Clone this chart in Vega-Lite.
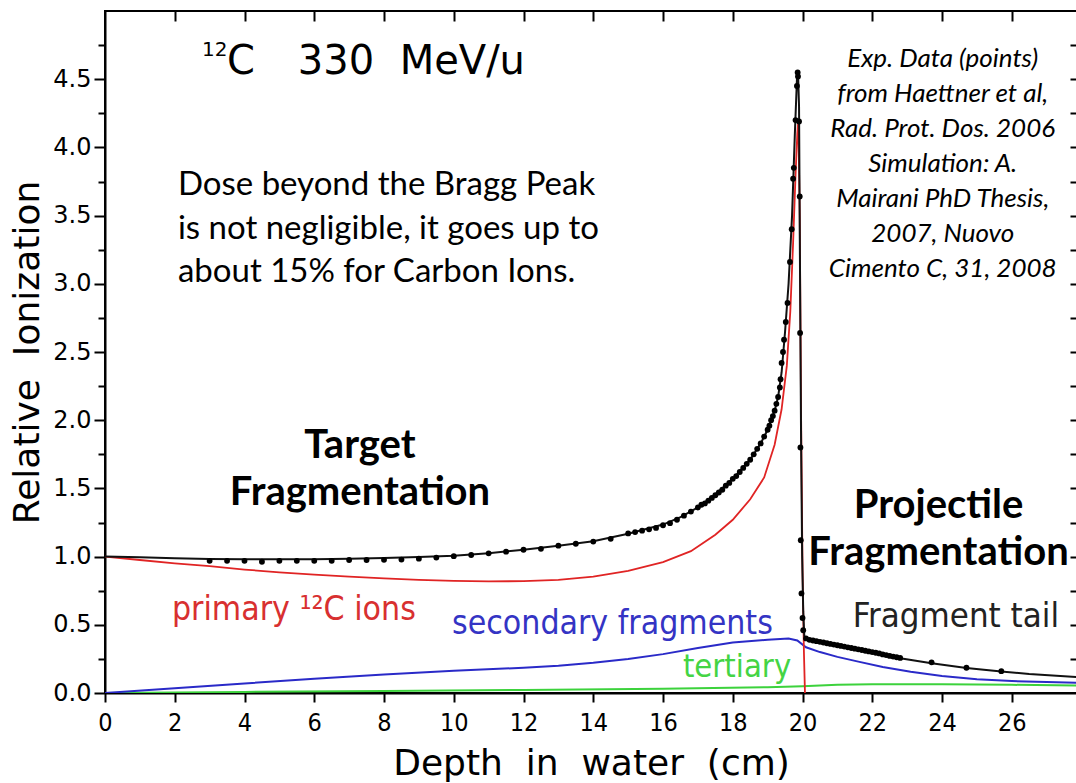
{
  "$schema": "https://vega.github.io/schema/vega-lite/v6.json",
  "width": 972,
  "height": 682,
  "autosize": {"type": "none"},
  "padding": {"left": 105, "top": 11, "right": 0, "bottom": 90},
  "background": "white",
  "config": {
    "view": {"stroke": "#000", "strokeWidth": 2},
    "axis": {"domainColor": "#000", "domainWidth": 2, "tickColor": "#000", "tickWidth": 2, "labelColor": "#000", "titleColor": "#000", "grid": false, "labelOverlap": false, "labelFlush": false}
  },
  "datasets": {
    "total": [
      {"depth": 0, "value": 1.0}, {"depth": 1, "value": 0.995}, {"depth": 2, "value": 0.988}, {"depth": 3, "value": 0.982},
      {"depth": 4, "value": 0.98}, {"depth": 5, "value": 0.98}, {"depth": 6, "value": 0.981}, {"depth": 7, "value": 0.984},
      {"depth": 8, "value": 0.99}, {"depth": 9, "value": 0.997}, {"depth": 10, "value": 1.007}, {"depth": 11, "value": 1.025},
      {"depth": 12, "value": 1.05}, {"depth": 13, "value": 1.08}, {"depth": 14, "value": 1.113}, {"depth": 15, "value": 1.167},
      {"depth": 16, "value": 1.235}, {"depth": 16.5, "value": 1.29}, {"depth": 17, "value": 1.36}, {"depth": 17.5, "value": 1.455},
      {"depth": 18, "value": 1.57}, {"depth": 18.5, "value": 1.71}, {"depth": 18.8, "value": 1.83}, {"depth": 19.0, "value": 1.93},
      {"depth": 19.2, "value": 2.07}, {"depth": 19.3, "value": 2.17}, {"depth": 19.4, "value": 2.35}, {"depth": 19.5, "value": 2.65},
      {"depth": 19.6, "value": 3.0}, {"depth": 19.7, "value": 3.5}, {"depth": 19.78, "value": 4.1}, {"depth": 19.84, "value": 4.5},
      {"depth": 19.87, "value": 4.56}, {"depth": 19.9, "value": 4.3}, {"depth": 19.93, "value": 3.0}, {"depth": 19.96, "value": 1.8},
      {"depth": 19.99, "value": 1.0}, {"depth": 20.02, "value": 0.6}, {"depth": 20.05, "value": 0.42}, {"depth": 20.1, "value": 0.39},
      {"depth": 20.5, "value": 0.37}, {"depth": 21, "value": 0.345}, {"depth": 21.5, "value": 0.32}, {"depth": 22, "value": 0.295},
      {"depth": 22.8, "value": 0.255}, {"depth": 23.7, "value": 0.218}, {"depth": 24.7, "value": 0.183}, {"depth": 25.7, "value": 0.158},
      {"depth": 26.5, "value": 0.14}, {"depth": 27.87, "value": 0.117}
    ],
    "primary": [
      {"depth": 0, "value": 1.0}, {"depth": 1, "value": 0.975}, {"depth": 2, "value": 0.95}, {"depth": 3, "value": 0.93},
      {"depth": 4, "value": 0.905}, {"depth": 5, "value": 0.885}, {"depth": 6, "value": 0.868}, {"depth": 7, "value": 0.853},
      {"depth": 8, "value": 0.84}, {"depth": 9, "value": 0.83}, {"depth": 10, "value": 0.822}, {"depth": 11, "value": 0.818},
      {"depth": 12, "value": 0.82}, {"depth": 13, "value": 0.83}, {"depth": 14, "value": 0.853}, {"depth": 15, "value": 0.895},
      {"depth": 16, "value": 0.96}, {"depth": 16.8, "value": 1.04}, {"depth": 17.5, "value": 1.16}, {"depth": 18, "value": 1.27},
      {"depth": 18.5, "value": 1.42}, {"depth": 18.9, "value": 1.58}, {"depth": 19.2, "value": 1.82}, {"depth": 19.4, "value": 2.08},
      {"depth": 19.55, "value": 2.4}, {"depth": 19.65, "value": 2.8}, {"depth": 19.73, "value": 3.3}, {"depth": 19.8, "value": 3.8},
      {"depth": 19.85, "value": 4.1}, {"depth": 19.88, "value": 4.2}, {"depth": 19.92, "value": 3.5}, {"depth": 19.96, "value": 2.0},
      {"depth": 20.0, "value": 0.9}, {"depth": 20.04, "value": 0.3}, {"depth": 20.07, "value": 0.0}
    ],
    "secondary": [
      {"depth": 0, "value": 0.0}, {"depth": 2, "value": 0.035}, {"depth": 4, "value": 0.07}, {"depth": 6, "value": 0.105},
      {"depth": 8, "value": 0.135}, {"depth": 10, "value": 0.163}, {"depth": 12, "value": 0.185}, {"depth": 13, "value": 0.2},
      {"depth": 14, "value": 0.222}, {"depth": 15, "value": 0.25}, {"depth": 16, "value": 0.285}, {"depth": 17, "value": 0.33},
      {"depth": 18, "value": 0.37}, {"depth": 19, "value": 0.39}, {"depth": 19.6, "value": 0.4}, {"depth": 19.85, "value": 0.385},
      {"depth": 20.1, "value": 0.335}, {"depth": 20.5, "value": 0.3}, {"depth": 21, "value": 0.265}, {"depth": 21.6, "value": 0.23},
      {"depth": 22.3, "value": 0.19}, {"depth": 23.1, "value": 0.155}, {"depth": 24, "value": 0.125}, {"depth": 25, "value": 0.1},
      {"depth": 26, "value": 0.088}, {"depth": 27, "value": 0.08}, {"depth": 27.87, "value": 0.075}
    ],
    "tertiary": [
      {"depth": 0, "value": 0.0}, {"depth": 4, "value": 0.008}, {"depth": 8, "value": 0.015}, {"depth": 12, "value": 0.022},
      {"depth": 16, "value": 0.032}, {"depth": 19, "value": 0.042}, {"depth": 20, "value": 0.05}, {"depth": 21, "value": 0.06},
      {"depth": 22, "value": 0.065}, {"depth": 24, "value": 0.065}, {"depth": 26, "value": 0.06}, {"depth": 27.87, "value": 0.055}
    ],
    "exp": [
      {"depth": 3.0, "value": 0.969}, {"depth": 3.5, "value": 0.969}, {"depth": 4.0, "value": 0.969}, {"depth": 4.5, "value": 0.962},
      {"depth": 5.0, "value": 0.969}, {"depth": 5.5, "value": 0.969}, {"depth": 6.0, "value": 0.969}, {"depth": 6.5, "value": 0.969},
      {"depth": 7.0, "value": 0.975}, {"depth": 7.5, "value": 0.975}, {"depth": 8.0, "value": 0.976}, {"depth": 8.5, "value": 0.978},
      {"depth": 9.0, "value": 0.985}, {"depth": 9.5, "value": 0.993}, {"depth": 10.0, "value": 1.003}, {"depth": 10.5, "value": 1.012},
      {"depth": 11.0, "value": 1.024}, {"depth": 11.5, "value": 1.036}, {"depth": 12.0, "value": 1.05}, {"depth": 12.5, "value": 1.057},
      {"depth": 13.0, "value": 1.08}, {"depth": 13.5, "value": 1.094}, {"depth": 14.0, "value": 1.11}, {"depth": 14.5, "value": 1.13},
      {"depth": 15.0, "value": 1.17}, {"depth": 15.2, "value": 1.18}, {"depth": 15.4, "value": 1.19}, {"depth": 15.6, "value": 1.2},
      {"depth": 15.8, "value": 1.21}, {"depth": 16.0, "value": 1.23}, {"depth": 16.2, "value": 1.245}, {"depth": 16.4, "value": 1.27},
      {"depth": 16.6, "value": 1.3}, {"depth": 16.8, "value": 1.33}, {"depth": 17.0, "value": 1.36}, {"depth": 17.1, "value": 1.38},
      {"depth": 17.2, "value": 1.39}, {"depth": 17.3, "value": 1.41}, {"depth": 17.4, "value": 1.43}, {"depth": 17.5, "value": 1.45},
      {"depth": 17.6, "value": 1.47}, {"depth": 17.7, "value": 1.49}, {"depth": 17.8, "value": 1.52}, {"depth": 17.9, "value": 1.54},
      {"depth": 18.0, "value": 1.57}, {"depth": 18.1, "value": 1.59}, {"depth": 18.2, "value": 1.62}, {"depth": 18.3, "value": 1.65},
      {"depth": 18.4, "value": 1.68}, {"depth": 18.5, "value": 1.71}, {"depth": 18.6, "value": 1.75}, {"depth": 18.7, "value": 1.79},
      {"depth": 18.8, "value": 1.83}, {"depth": 18.9, "value": 1.88}, {"depth": 19.0, "value": 1.93}, {"depth": 19.05, "value": 1.96},
      {"depth": 19.1, "value": 2.0}, {"depth": 19.15, "value": 2.03}, {"depth": 19.2, "value": 2.07}, {"depth": 19.25, "value": 2.12},
      {"depth": 19.3, "value": 2.17}, {"depth": 19.35, "value": 2.24}, {"depth": 19.37, "value": 2.3}, {"depth": 19.4, "value": 2.42},
      {"depth": 19.44, "value": 2.5}, {"depth": 19.47, "value": 2.59}, {"depth": 19.52, "value": 2.72}, {"depth": 19.57, "value": 2.86},
      {"depth": 19.64, "value": 3.16}, {"depth": 19.69, "value": 3.4}, {"depth": 19.73, "value": 3.77}, {"depth": 19.75, "value": 3.85},
      {"depth": 19.8, "value": 4.2}, {"depth": 19.84, "value": 4.45}, {"depth": 19.86, "value": 4.55}, {"depth": 19.87, "value": 4.52},
      {"depth": 19.9, "value": 4.19}, {"depth": 19.92, "value": 3.64}, {"depth": 19.93, "value": 2.64}, {"depth": 19.94, "value": 1.8},
      {"depth": 19.95, "value": 1.12}, {"depth": 19.97, "value": 0.73}, {"depth": 20.0, "value": 0.55}, {"depth": 20.02, "value": 0.46},
      {"depth": 20.1, "value": 0.4}, {"depth": 20.2, "value": 0.39}, {"depth": 20.3, "value": 0.385}, {"depth": 20.4, "value": 0.38},
      {"depth": 20.5, "value": 0.375}, {"depth": 20.6, "value": 0.37}, {"depth": 20.7, "value": 0.365}, {"depth": 20.8, "value": 0.36},
      {"depth": 20.9, "value": 0.355}, {"depth": 21.0, "value": 0.35}, {"depth": 21.1, "value": 0.345}, {"depth": 21.2, "value": 0.34},
      {"depth": 21.3, "value": 0.335}, {"depth": 21.4, "value": 0.33}, {"depth": 21.5, "value": 0.325}, {"depth": 21.6, "value": 0.32},
      {"depth": 21.7, "value": 0.315}, {"depth": 21.8, "value": 0.31}, {"depth": 21.9, "value": 0.305}, {"depth": 22.0, "value": 0.3},
      {"depth": 22.1, "value": 0.295}, {"depth": 22.2, "value": 0.29}, {"depth": 22.3, "value": 0.283}, {"depth": 22.4, "value": 0.278},
      {"depth": 22.5, "value": 0.272}, {"depth": 22.6, "value": 0.267}, {"depth": 22.7, "value": 0.262}, {"depth": 22.8, "value": 0.257},
      {"depth": 23.7, "value": 0.225}, {"depth": 24.7, "value": 0.185}, {"depth": 25.7, "value": 0.16}
    ]
  },
  "layer": [
    {
      "data": {"name": "tertiary"},
      "mark": {"type": "line", "color": "#3cd23c", "strokeWidth": 2, "clip": true},
      "encoding": {
        "x": {"field": "depth", "type": "quantitative", "scale": {"domain": [0, 27.87], "nice": false, "zero": false},
          "axis": {"orient": "bottom", "values": [0, 2, 4, 6, 8, 10, 12, 14, 16, 18, 20, 22, 24, 26], "tickSize": 9, "labelPadding": 8,
            "labelFont": "Liberation Sans Narrow, DejaVu Sans Condensed, sans-serif", "labelFontSize": 25,
            "title": "Depth\u00a0 in\u00a0 water\u00a0 (cm)", "titleFont": "DejaVu Sans", "titleFontSize": 36, "titleFontWeight": "normal", "titlePadding": 11}},
        "y": {"field": "value", "type": "quantitative", "scale": {"domain": [0, 5], "nice": false},
          "axis": {"orient": "left", "values": [0, 0.5, 1, 1.5, 2, 2.5, 3, 3.5, 4, 4.5], "format": ".1f", "tickSize": 11, "labelPadding": 3,
            "labelFont": "DejaVu Sans", "labelFontSize": 24,
            "title": "Relative\u00a0 Ionization", "titleFont": "DejaVu Sans", "titleFontSize": 36, "titleFontWeight": "normal", "titlePadding": 6}}
      }
    },
    {
      "data": {"name": "secondary"},
      "mark": {"type": "line", "color": "#2a2ac8", "strokeWidth": 2, "clip": true},
      "encoding": {
        "x": {"field": "depth", "type": "quantitative",
          "axis": {"orient": "top", "values": [2, 4, 6, 8, 10, 12, 14, 16, 18, 20, 22, 24, 26], "tickSize": -10, "labels": false, "domain": false, "title": null}},
        "y": {"field": "value", "type": "quantitative",
          "axis": {"orient": "left", "values": [0.25, 0.75, 1.25, 1.75, 2.25, 2.75, 3.25, 3.75, 4.25, 4.75], "tickSize": 7, "labels": false, "domain": false, "title": null}}
      }
    },
    {
      "data": {"name": "primary"},
      "mark": {"type": "line", "color": "#e02424", "strokeWidth": 1.8, "clip": true},
      "encoding": {
        "x": {"field": "depth", "type": "quantitative", "axis": null},
        "y": {"field": "value", "type": "quantitative",
          "axis": {"orient": "right", "values": [0.25, 0.5, 0.75, 1, 1.25, 1.5, 1.75, 2, 2.25, 2.5, 2.75, 3, 3.25, 3.5, 3.75, 4, 4.25, 4.5, 4.75], "tickSize": -7, "labels": false, "domain": false, "title": null}}
      }
    },
    {
      "data": {"name": "total"},
      "mark": {"type": "line", "color": "#111", "strokeWidth": 2, "clip": true},
      "encoding": {
        "x": {"field": "depth", "type": "quantitative", "axis": null},
        "y": {"field": "value", "type": "quantitative", "axis": null}
      }
    },
    {
      "data": {"name": "exp"},
      "mark": {"type": "circle", "color": "#000", "size": 34, "opacity": 1},
      "encoding": {
        "x": {"field": "depth", "type": "quantitative", "axis": null},
        "y": {"field": "value", "type": "quantitative", "axis": null}
      }
    },
    {
      "data": {"values": [{}]},
      "mark": {"type": "text", "text": "12", "align": "left", "baseline": "alphabetic", "font": "DejaVu Sans", "fontSize": 20, "color": "#000"},
      "encoding": {"x": {"datum": 2.78, "type": "quantitative", "axis": null}, "y": {"datum": 4.67, "type": "quantitative", "axis": null}}
    },
    {
      "data": {"values": [{}]},
      "mark": {"type": "text", "text": "C", "align": "left", "baseline": "alphabetic", "font": "DejaVu Sans", "fontSize": 40, "color": "#000"},
      "encoding": {"x": {"datum": 3.5, "type": "quantitative", "axis": null}, "y": {"datum": 4.537, "type": "quantitative", "axis": null}}
    },
    {
      "data": {"values": [{}]},
      "mark": {"type": "text", "text": "330\u00a0 MeV/u", "align": "left", "baseline": "alphabetic", "font": "DejaVu Sans", "fontSize": 40, "color": "#000"},
      "encoding": {"x": {"datum": 5.53, "type": "quantitative", "axis": null}, "y": {"datum": 4.537, "type": "quantitative", "axis": null}}
    },
    {
      "data": {"values": [{}]},
      "mark": {"type": "text", "text": ["Dose beyond the Bragg Peak", "is not negligible, it goes up to", "about 15% for Carbon Ions."], "align": "left", "baseline": "alphabetic", "lineHeight": 43.5, "font": "Lato", "fontSize": 33, "color": "#000"},
      "encoding": {"x": {"datum": 2.09, "type": "quantitative", "axis": null}, "y": {"datum": 3.65, "type": "quantitative", "axis": null}}
    },
    {
      "data": {"values": [{}]},
      "mark": {"type": "text", "text": ["Target", "Fragmentation"], "align": "center", "baseline": "alphabetic", "lineHeight": 47, "font": "Lato", "fontWeight": "bold", "fontSize": 40, "color": "#000"},
      "encoding": {"x": {"datum": 7.31, "type": "quantitative", "axis": null}, "y": {"datum": 1.725, "type": "quantitative", "axis": null}}
    },
    {
      "data": {"values": [{}]},
      "mark": {"type": "text", "text": ["Projectile", "Fragmentation"], "align": "center", "baseline": "alphabetic", "lineHeight": 47, "font": "Lato", "fontWeight": "bold", "fontSize": 40, "color": "#000"},
      "encoding": {"x": {"datum": 23.9, "type": "quantitative", "axis": null}, "y": {"datum": 1.285, "type": "quantitative", "axis": null}}
    },
    {
      "data": {"values": [{}]},
      "mark": {"type": "text", "text": ["Exp. Data (points)", "from Haettner et al,", "Rad. Prot. Dos. 2006", "Simulation: A.", "Mairani PhD Thesis,", "2007, Nuovo", "Cimento C, 31, 2008"], "align": "center", "baseline": "alphabetic", "lineHeight": 35, "font": "Lato", "fontStyle": "italic", "fontSize": 26, "color": "#000"},
      "encoding": {"x": {"datum": 24.02, "type": "quantitative", "axis": null}, "y": {"datum": 4.589, "type": "quantitative", "axis": null}}
    },
    {
      "data": {"values": [{}]},
      "mark": {"type": "text", "text": "primary  ¹²C  ions", "align": "left", "baseline": "alphabetic", "font": "DejaVu Sans Condensed, DejaVu Sans", "fontSize": 33.5, "color": "#d83030"},
      "encoding": {"x": {"datum": 1.92, "type": "quantitative", "axis": null}, "y": {"datum": 0.536, "type": "quantitative", "axis": null}}
    },
    {
      "data": {"values": [{}]},
      "mark": {"type": "text", "text": "secondary  fragments", "align": "left", "baseline": "alphabetic", "font": "DejaVu Sans Condensed, DejaVu Sans", "fontSize": 33.5, "color": "#3434c4"},
      "encoding": {"x": {"datum": 9.95, "type": "quantitative", "axis": null}, "y": {"datum": 0.43, "type": "quantitative", "axis": null}}
    },
    {
      "data": {"values": [{}]},
      "mark": {"type": "text", "text": "tertiary", "align": "left", "baseline": "alphabetic", "font": "DejaVu Sans Condensed, DejaVu Sans", "fontSize": 32.5, "color": "#44d444"},
      "encoding": {"x": {"datum": 16.57, "type": "quantitative", "axis": null}, "y": {"datum": 0.115, "type": "quantitative", "axis": null}}
    },
    {
      "data": {"values": [{}]},
      "mark": {"type": "text", "text": "Fragment  tail", "align": "left", "baseline": "alphabetic", "font": "DejaVu Sans Condensed, DejaVu Sans", "fontSize": 34.5, "color": "#222"},
      "encoding": {"x": {"datum": 21.44, "type": "quantitative", "axis": null}, "y": {"datum": 0.485, "type": "quantitative", "axis": null}}
    }
  ],
  "resolve": {"axis": {"x": "independent", "y": "independent"}}
}
